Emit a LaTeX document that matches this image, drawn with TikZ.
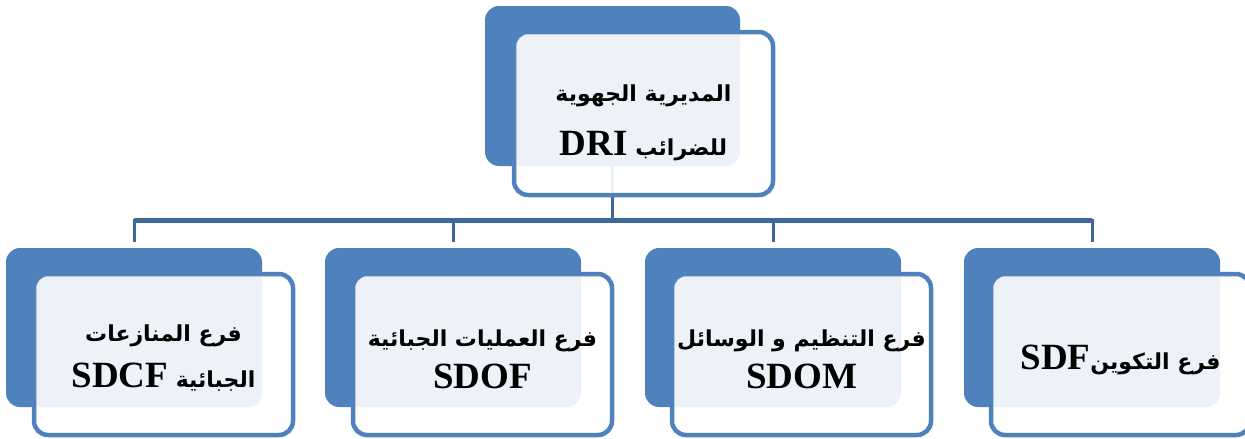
\documentclass[tikz,border=0pt]{standalone}
\usepackage{fontspec}
\setmainfont{Liberation Serif}
\newfontfamily\arabicfont[Script=Arabic]{DejaVu Sans}
\TeXXeTstate=1
\usetikzlibrary{positioning}
\definecolor{acento}{RGB}{79, 129, 189}
\definecolor{conector}{RGB}{65, 104, 154}
\tikzset{
    fondo/.style={rectangle, rounded corners=14pt, fill=acento, minimum width=256pt, minimum height=159pt, inner sep=0pt},
    caja/.style={rectangle, rounded corners=14pt, draw=acento, line width=4.5pt, fill=white, fill opacity=0.9,
                 minimum width=259pt, minimum height=161pt},
    texto/.style={align=center, inner sep=0pt, font=\bfseries\fontsize{37}{46}\selectfont},
    conn/.style={-, conector, line width=3pt},
}
\newcommand{\ar}[1]{{\arabicfont\fontsize{22}{46}\selectfont\beginR #1\endR}}
\newcommand{\la}[1]{\beginL{\rmfamily\fontsize{37}{46}\selectfont #1}\endL}

\begin{document}
\begin{tikzpicture}[x=1pt, y=-1pt]
    \useasboundingbox (0,0) rectangle (1245,439);

    % cajas de fondo
    \node [fondo, minimum width=255pt, minimum height=160pt] (driF) at (612.5, 86) {};
    \node [fondo] (sdcfF) at (134, 327.5) {};
    \node [fondo] (sdofF) at (453, 327.5) {};
    \node [fondo] (sdomF) at (773, 327.5) {};
    \node [fondo] (sdfF)  at (1092, 327.5) {};

    % conectores
    \coordinate (bus) at (612.5, 220);
    \draw[conn] (driF.south) -- (bus);
    \draw[conn, line width=5pt] (sdcfF.north |- bus) -- (sdfF.north |- bus);
    \foreach \b in {sdcfF, sdofF, sdomF, sdfF}
        \draw[conn] (bus) -| ([yshift=6pt]\b.north);

    % cajas delanteras
    \node [caja, minimum height=163pt] (dri) at (643.5, 113.5) {};
    \node [caja] (sdcf) at (163.5, 354.5) {};
    \node [caja] (sdof) at (482.5, 354.5) {};
    \node [caja] (sdom) at (801.5, 354.5) {};
    \node [caja] (sdf)  at (1120.5, 354.5) {};

    % textos
    \node [texto, font=\bfseries\fontsize{37}{54}\selectfont] (driT) at ([yshift=-9pt]dri.center)
        {\ar{المديرية الجهوية}\\ \ar{للضرائب \la{DRI}}};
    \node [texto] (sdcfT) at ([yshift=-4pt]sdcf.center)
        {\ar{فرع المنازعات}\\ \ar{الجبائية \la{SDCF}}};
    \node [texto, font=\bfseries\fontsize{37}{42}\selectfont] (sdofT) at ([yshift=-5pt]sdof.center)
        {\ar{فرع العمليات الجبائية}\\ SDOF};
    \node [texto, font=\bfseries\fontsize{37}{42}\selectfont] (sdomT) at ([yshift=-5pt]sdom.center)
        {\ar{فرع التنظيم و الوسائل}\\ SDOM};
    \node [texto] (sdfT) at ([yshift=-5pt]sdf.center)
        {\ar{فرع التكوين\la{SDF}}};
\end{tikzpicture}
\end{document}
